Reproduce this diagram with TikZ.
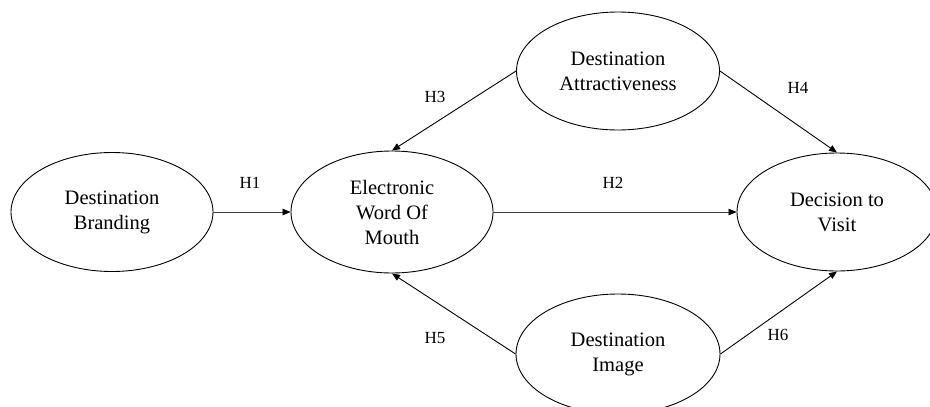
\documentclass[tikz,border=0pt]{standalone}
\usepackage{fontspec}
\setmainfont{Liberation Serif}
\usetikzlibrary{shapes.geometric,arrows.meta}
\begin{document}
\begin{tikzpicture}[x=1pt,y=-1pt,
  construct/.style={ellipse,draw,line width=0.9pt,inner sep=0pt,minimum width=202pt,minimum height=119pt,align=center,font=\fontsize{20.5}{25}\selectfont},
  link/.style={draw,line width=0.9pt,-{Triangle[length=8pt,width=6.5pt]}},
  hlink/.style={draw,line width=0.7pt,black!75,-{Triangle[length=8pt,width=6.5pt,color=black]}},
  hyp/.style={font=\fontsize{17}{19}\selectfont,inner sep=0pt}]
\useasboundingbox (0,0) rectangle (930,407);
\clip (0,0) rectangle (930,407);
\node[construct] (DB) at (112,212) {Destination\\Branding};
\node[construct,minimum height=122pt] (EW) at (392,212) {Electronic\\Word Of\\Mouth};
\node[construct,minimum width=200pt,minimum height=118pt] (DV) at (837,212) {Decision to\\Visit};
\node[construct,minimum width=203pt,minimum height=118pt] (DA) at (618,71) {Destination\\Attractiveness};
\node[construct,minimum width=204pt,minimum height=120pt] (DI) at (618,354) {Destination\\Image};
\draw[hlink] (DB.east) -- (EW.west);
\draw[hlink] (EW.east) -- (DV.west);
\draw[link] (DA.west) -- (EW.north);
\draw[link] (DA.east) -- (DV.north);
\draw[link] (DI.west) -- (EW.south);
\draw[link] (DI.east) -- (DV.south);
\node[hyp] (H1) at (250,183) {H1};
\node[hyp] (H2) at (613,183) {H2};
\node[hyp] (H3) at (435,97) {H3};
\node[hyp] (H4) at (798,88) {H4};
\node[hyp] (H5) at (435,338) {H5};
\node[hyp] (H6) at (778,335) {H6};
\end{tikzpicture}
\end{document}
